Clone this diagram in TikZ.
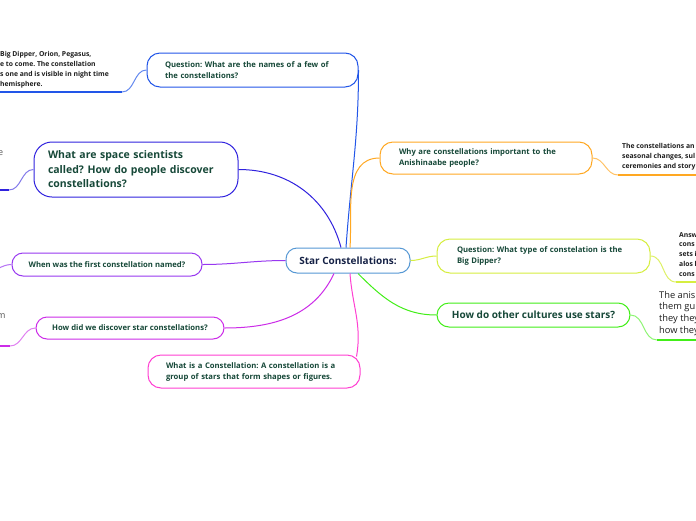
\documentclass[tikz,border=0pt]{standalone}
\usepackage{fontspec}
\setmainfont{Open Sans}
\frenchspacing
\definecolor{txtgreen}{RGB}{22,72,56}
\definecolor{txtnavy}{RGB}{22,34,70}
\definecolor{cstar}{RGB}{86,152,212}
\definecolor{cnames}{RGB}{34,86,232}
\definecolor{cspace}{RGB}{48,34,222}
\definecolor{cfirst}{RGB}{152,56,240}
\definecolor{cdisc}{RGB}{204,44,232}
\definecolor{cwhat}{RGB}{255,64,210}
\definecolor{cwhy}{RGB}{255,168,34}
\definecolor{ctype}{RGB}{214,238,64}
\definecolor{cother}{RGB}{66,238,24}
\definecolor{leaftxt}{RGB}{30,30,30}

\begin{document}
\begin{tikzpicture}[x=1pt, y=-1pt,
    topic/.style={draw, line width=1pt, fill=white, rounded corners=13pt, inner sep=0pt,
        align=left, text=txtgreen, font=\bfseries\fontsize{7.7}{11}\selectfont},
    bigtopic/.style={topic, rounded corners=18pt, font=\bfseries\fontsize{10.5}{14.5}\selectfont},
    leaf/.style={anchor=north west, inner sep=0pt, align=left, text=leaftxt,
        font=\bfseries\fontsize{6.8}{9.8}\selectfont},
    link/.style={line width=1pt},
    under/.style={line width=2pt}]
    \clip (0,0) rectangle (696,520);
    \fill[white] (0,0) rectangle (696,520);

    % central topic
    \node[topic, rounded corners=11pt, draw=cstar, text=txtnavy, minimum width=124pt, minimum height=25pt,
        font=\bfseries\fontsize{10}{12}\selectfont] (star) at (348,260.5) {Star Constellations:};

    % left side
    \node[topic, draw=cnames, minimum width=211pt, minimum height=34pt, text width=175pt] (names) at (252.5,70)
        {Question: What are the names of a few of\\the constellations?};
    \node[bigtopic, draw=cspace, minimum width=204pt, minimum height=55pt, text width=176pt] (space) at (136,169.5)
        {What are space scientists\\called? How do people discover\\constellations?};
    \node[topic, rounded corners=11pt, draw=cfirst, minimum width=190pt, minimum height=23pt] (first) at (107,264.5)
        {When was the first constellation named?};
    \node[topic, rounded corners=11pt, draw=cdisc, minimum width=188pt, minimum height=22pt] (disc) at (130,328)
        {How did we discover star constellations?};
    \node[topic, draw=cwhat, minimum width=212pt, minimum height=33pt, text width=176pt] (what) at (254,371.5)
        {What is a Constellation: A constellation is a\\group of stars that form shapes or figures.};

    % right side
    \node[topic, draw=cwhy, minimum width=212pt, minimum height=32pt, text width=174pt] (why) at (486,158)
        {Why are constellations important to the\\Anishinaabe people?};
    \node[topic, draw=ctype, minimum width=213pt, minimum height=34pt, text width=173pt] (type) at (543.5,256)
        {Question: What type of constelation is the\\Big Dipper?};
    \node[topic, rounded corners=12pt, draw=cother, minimum width=193pt, minimum height=24pt,
        font=\bfseries\fontsize{10}{12}\selectfont] (other) at (533.5,315)
        {How do other cultures use stars?};

    % leaves
    \node[leaf] (namesleaf) at (0,51.5) {Big Dipper, Orion, Pegasus,\\e to come. The constellation\\s one and is visible in night time\\hemisphere.};
    \node[leaf, text=black!65, font=\fontsize{9}{11}\selectfont] (spaceleaf) at (-2,150) {e};
    \node[leaf, text=black!65, font=\fontsize{9}{11}\selectfont] (discleaf) at (-3,313) {m};
    \node[leaf] (whyleaf) at (622,143.5) {The constellations an\\seasonal changes, sul\\ceremonies and story};
    \node[leaf] (typeleaf) at (679,232) {Answ\\cons\\sets i\\alos l\\cons};
    \node[leaf, font=\fontsize{9.3}{11.6}\selectfont] (otherleaf) at (659,291) {The anisin\\them gui\\they they\\how they};

    \coordinate (namesend) at (122,92);
    \coordinate (spaceend) at (9,190);
    \coordinate (firstend) at (-14,272);
    \coordinate (discend) at (10,346);
    \coordinate (whyend) at (618,175);
    \coordinate (typeend) at (676,282);
    \coordinate (otherend) at (657,340);

    % links from the central topic
    \draw[link, cnames] ([xshift=-2pt]star.north) to[out=86, in=-90] (names.east);
    \draw[link, cwhy] ([xshift=2pt]star.north) to[out=86, in=180] (why.west);
    \draw[link, cspace] (space.east) to[out=0, in=105] ([xshift=-7pt]star.north);
    \draw[link, cfirst] (first.east) to[out=0, in=180] (star.west);
    \draw[link, cdisc] (disc.east) to[out=0, in=-115] ([xshift=-14pt]star.south);
    \draw[link, cwhat] ([xshift=2pt]star.south) to[out=-86, in=80] ([xshift=-4pt,yshift=-2pt]what.north east);
    \draw[link, ctype] (star.east) to[out=0, in=180] (type.west);
    \draw[link, cother] ([xshift=10pt]star.south) to[out=-45, in=180] (other.west);

    % links to the leaves
    \draw[link, cnames!70] (names.west) to[out=180, in=0] (namesend);
    \draw[under, cnames] (namesend) -- (0,92);
    \draw[link, cspace!60] (space.west) to[out=180, in=0] (spaceend);
    \draw[under, cspace] (spaceend) -- (0,190);
    \draw[link, cfirst!70] (first.west) to[out=180, in=0] (firstend);
    \draw[link, cdisc!60] (disc.west) to[out=180, in=0] (discend);
    \draw[under, cdisc] (discend) -- (0,346);
    \draw[link, cwhy!70] (why.east) to[out=0, in=180] (whyend);
    \draw[under, cwhy] (whyend) -- (696,175);
    \draw[link, ctype!80] (type.east) to[out=0, in=180] (typeend);
    \draw[under, ctype] (typeend) -- (696,282);
    \draw[link, cother!60] (other.east) to[out=0, in=180] (otherend);
    \draw[under, cother] (otherend) -- (696,340);
\end{tikzpicture}
\end{document}
